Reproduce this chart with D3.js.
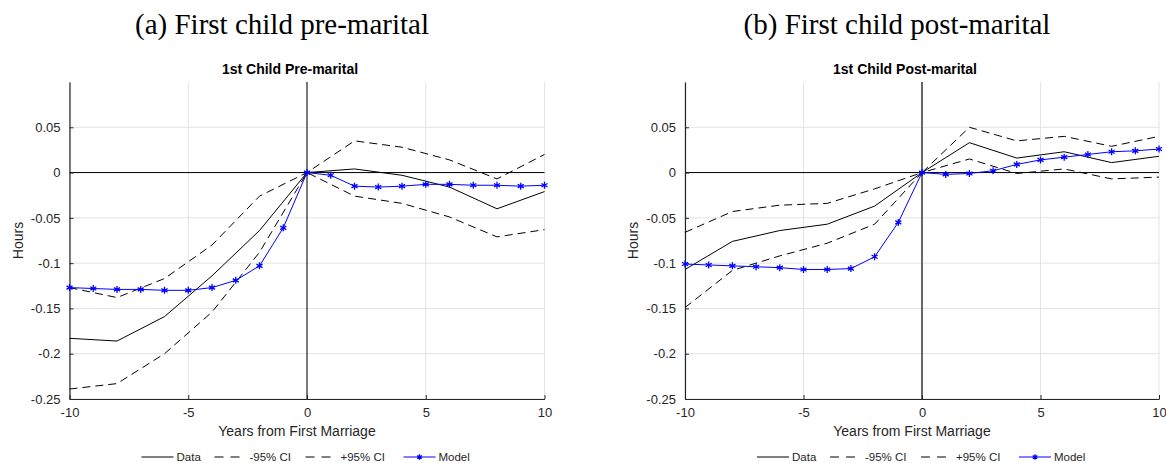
<!DOCTYPE html>
<html>
<head>
<meta charset="utf-8">
<script src="https://cdn.jsdelivr.net/npm/d3@7"></script>
<style>
  html, body { margin: 0; padding: 0; background: #fff; }
  svg { display: block; }
  text { font-family: "Liberation Sans", Arial, sans-serif; }
</style>
</head>
<body>
<svg id="chart" width="1166" height="463"></svg>
<script>
'use strict';

// ── Data ──────────────────────────────────────────────────────────────────
const yearsData  = [-10, -8, -6, -4, -2, 0, 2, 4, 6, 8, 10];
const yearsModel = [-10, -9, -8, -7, -6, -5, -4, -3, -2, -1, 0, 1, 2, 3, 4, 5, 6, 7, 8, 9, 10];
const yTicks     = [-0.25, -0.2, -0.15, -0.1, -0.05, 0, 0.05];
const xTicks     = [-10, -5, 0, 5, 10];

// (a) first child pre-marital
const preData  = [-0.183, -0.186, -0.159, -0.114, -0.064, 0, 0.004, -0.003, -0.016, -0.040, -0.021];
const preLower = [-0.239, -0.233, -0.200, -0.154, -0.088, 0, -0.026, -0.034, -0.049, -0.071, -0.063];
const preUpper = [-0.127, -0.138, -0.117, -0.080, -0.026, 0, 0.035, 0.028, 0.014, -0.007, 0.020];
const preModel = [-0.127, -0.128, -0.129, -0.129, -0.130, -0.130, -0.127, -0.119, -0.103, -0.061, 0,
                  -0.003, -0.015, -0.016, -0.015, -0.013, -0.013, -0.014, -0.014, -0.015, -0.014];

// (b) first child post-marital
const postData  = [-0.107, -0.076, -0.064, -0.057, -0.037, 0, 0.033, 0.016, 0.023, 0.011, 0.018];
const postLower = [-0.149, -0.108, -0.092, -0.078, -0.057, 0, 0.015, -0.001, 0.004, -0.007, -0.005];
const postUpper = [-0.066, -0.043, -0.036, -0.034, -0.018, 0, 0.050, 0.035, 0.040, 0.029, 0.040];
const postModel = [-0.101, -0.102, -0.103, -0.104, -0.105, -0.107, -0.107, -0.106, -0.093, -0.055, 0,
                   -0.002, -0.001, 0.002, 0.009, 0.014, 0.017, 0.020, 0.023, 0.024, 0.026];

const legendLabels = ['Data', '-95% CI', '+95% CI', 'Model'];

const panels = [
  { caption: '(a) First child pre-marital', title: '1st Child Pre-marital',
    left: 69.5, right: 544.5, data: preData, lower: preLower, upper: preUpper, model: preModel,
    vColor: '#000', vWidth: 1 },
  { caption: '(b) First child post-marital', title: '1st Child Post-marital',
    left: 685, right: 1159, data: postData, lower: postLower, upper: postUpper, model: postModel,
    vColor: '#444', vWidth: 1.6 }
];

// ── Layout ────────────────────────────────────────────────────────────────
const TOP    = 82;
const BOTTOM = 399;
const AXIS_C = '#262626';
const GRID_C = '#e3e3e3';
const BLUE   = '#0000ff';
const DASH   = '8,5';

// plain hyphen minus like the original (d3 uses U+2212 by default)
const fmt = d => d3.format('~g')(+(+d).toFixed(2)).replace('\u2212', '-');

const svg = d3.select('#chart');

panels.forEach(p => {
  const x = d3.scaleLinear().domain([-10, 10]).range([p.left, p.right]);
  const y = d3.scaleLinear().domain([-0.25, 0.1]).range([BOTTOM, TOP]);
  const mid = (p.left + p.right) / 2;

  const g = svg.append('g');

  // Caption (serif, above panel)
  svg.append('text')
    .attr('x', mid - 25).attr('y', 34)
    .attr('text-anchor', 'middle')
    .style('font-family', '"Liberation Serif", "Times New Roman", serif')
    .style('font-size', '29px')
    .attr('fill', '#000')
    .text(p.caption);

  // Panel title
  g.append('text')
    .attr('x', mid - 17).attr('y', 74)
    .attr('text-anchor', 'middle')
    .style('font-size', '14px').style('font-weight', 'bold')
    .attr('fill', '#000')
    .text(p.title);

  // Grid
  g.append('g').selectAll('line').data(xTicks).join('line')
    .attr('x1', d => x(d)).attr('x2', d => x(d))
    .attr('y1', TOP).attr('y2', BOTTOM)
    .attr('stroke', GRID_C).attr('stroke-width', 1);
  g.append('g').selectAll('line').data(yTicks).join('line')
    .attr('x1', p.left).attr('x2', p.right)
    .attr('y1', d => y(d)).attr('y2', d => y(d))
    .attr('stroke', GRID_C).attr('stroke-width', 1);

  // Zero reference lines
  g.append('line')
    .attr('x1', x(-10)).attr('x2', x(10))
    .attr('y1', y(0)).attr('y2', y(0))
    .attr('stroke', '#000').attr('stroke-width', 1);
  g.append('line')
    .attr('x1', x(0)).attr('x2', x(0))
    .attr('y1', TOP).attr('y2', BOTTOM)
    .attr('stroke', p.vColor).attr('stroke-width', p.vWidth);

  // Axes (ticks point inward)
  const yAxis = d3.axisLeft(y).tickValues(yTicks).tickSizeInner(-4).tickSizeOuter(0)
    .tickPadding(9).tickFormat(fmt);
  const xAxis = d3.axisBottom(x).tickValues(xTicks).tickSizeInner(-4).tickSizeOuter(0)
    .tickPadding(9).tickFormat(fmt);

  const ya = g.append('g').attr('transform', `translate(${p.left},0)`).call(yAxis);
  const xa = g.append('g').attr('transform', `translate(0,${BOTTOM})`).call(xAxis);
  [ya, xa].forEach(a => {
    a.select('.domain').attr('stroke', AXIS_C).attr('stroke-width', 1.2);
    a.selectAll('.tick line').attr('stroke', AXIS_C);
    a.selectAll('.tick text').attr('fill', AXIS_C)
      .style('font-size', '13px').style('font-family', '"Liberation Sans", Arial, sans-serif');
  });

  // Axis labels
  g.append('text')
    .attr('x', mid - 10).attr('y', 436)
    .attr('text-anchor', 'middle')
    .style('font-size', '14px').attr('fill', AXIS_C)
    .text('Years from First Marriage');
  g.append('text')
    .attr('transform', `translate(${p.left - 47},${(TOP + BOTTOM) / 2}) rotate(-90)`)
    .attr('text-anchor', 'middle')
    .style('font-size', '14px').attr('fill', AXIS_C)
    .text('Hours');

  // Series
  const line = d3.line();
  const pts  = (xs, ys) => xs.map((v, i) => [x(v), y(ys[i])]);

  g.append('path').attr('d', line(pts(yearsData, p.lower)))
    .attr('fill', 'none').attr('stroke', '#000').attr('stroke-width', 1)
    .attr('stroke-dasharray', DASH);
  g.append('path').attr('d', line(pts(yearsData, p.upper)))
    .attr('fill', 'none').attr('stroke', '#000').attr('stroke-width', 1)
    .attr('stroke-dasharray', DASH);
  g.append('path').attr('d', line(pts(yearsData, p.data)))
    .attr('fill', 'none').attr('stroke', '#000').attr('stroke-width', 1);

  const modelPts = pts(yearsModel, p.model);
  g.append('path').attr('d', line(modelPts))
    .attr('fill', 'none').attr('stroke', BLUE).attr('stroke-width', 1);

  const star = d3.symbol().type(d3.symbolAsterisk).size(34);
  g.append('g').selectAll('path').data(modelPts).join('path')
    .attr('transform', d => `translate(${d[0]},${d[1]})`)
    .attr('d', star)
    .attr('fill', 'none').attr('stroke', BLUE).attr('stroke-width', 1.3);

  // Legend
  const LY = 457;
  const lx = p.left + 72;
  const items = [
    { x: lx,       dash: null, color: '#000', marker: false },
    { x: lx + 73,  dash: '9,7', color: '#000', marker: false },
    { x: lx + 164, dash: '9,7', color: '#000', marker: false },
    { x: lx + 262, dash: null, color: BLUE,   marker: true }
  ];
  items.forEach((it, i) => {
    const li = g.append('g');
    li.append('line')
      .attr('x1', it.x).attr('x2', it.x + 32)
      .attr('y1', LY).attr('y2', LY)
      .attr('stroke', it.color).attr('stroke-width', 1)
      .attr('stroke-dasharray', it.dash);
    if (it.marker) {
      li.append('path')
        .attr('transform', `translate(${it.x + 16},${LY})`)
        .attr('d', d3.symbol().type(d3.symbolAsterisk).size(20))
        .attr('fill', 'none').attr('stroke', BLUE).attr('stroke-width', 1.3);
    }
    li.append('text')
      .attr('x', it.x + 35).attr('y', LY + 4)
      .style('font-size', '11.5px').attr('fill', AXIS_C)
      .text(legendLabels[i]);
  });
});
</script>
</body>
</html>
